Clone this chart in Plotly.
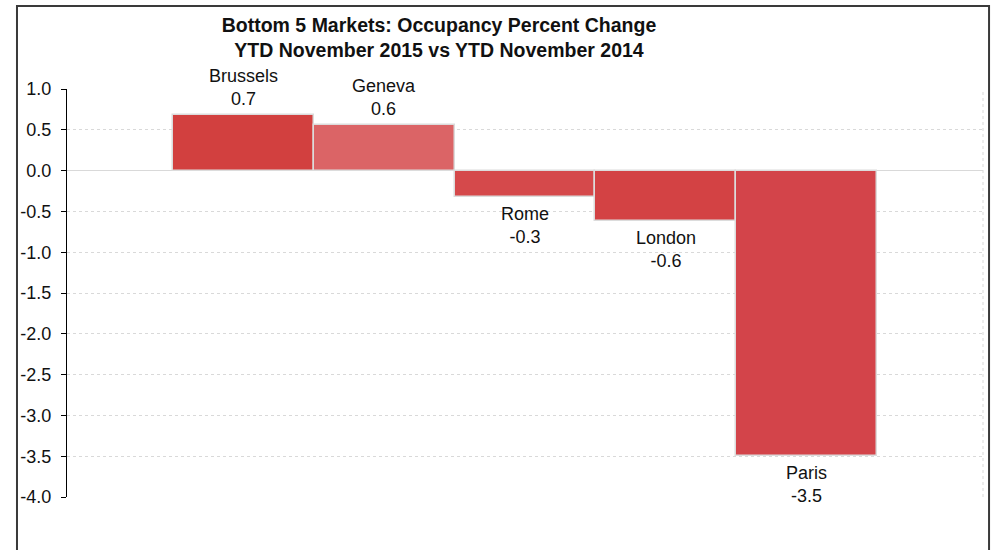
import plotly.graph_objects as go

markets = ["Brussels", "Geneva", "Rome", "London", "Paris"]
changes = [0.68, 0.56, -0.32, -0.62, -3.5]
tick_vals = [1.0, 0.5, 0.0, -0.5, -1.0, -1.5, -2.0, -2.5, -3.0, -3.5, -4.0]
tick_text = ["1.0", "0.5", "0.0", "-0.5", "-1.0", "-1.5", "-2.0", "-2.5", "-3.0", "-3.5", "-4.0"]

bar_colors = ["#d2403f", "#db6466", "#d5494b", "#d34244", "#d3444a"]

FONT = "Liberation Sans, Arial, sans-serif"
xpos = list(range(len(markets)))

fig = go.Figure()
fig.add_trace(go.Bar(
    x=xpos, y=changes, width=1.0,
    marker=dict(color=bar_colors, line=dict(color="#dcdcdc", width=1.5)),
    hoverinfo="skip", showlegend=False,
))

for i, (m, v) in enumerate(zip(markets, changes)):
    fig.add_annotation(
        x=i, y=v, xref="x", yref="y",
        text=f"{m}<br>{v:.1f}", showarrow=False,
        yanchor="bottom" if v >= 0 else "top",
        yshift=4 if v >= 0 else -5,
        font=dict(family=FONT, size=18, color="#111"),
        align="center",
    )

# outer chart frame
fig.add_shape(type="rect", xref="paper", yref="paper",
              x0=-0.0546, x1=1.0066, y0=-0.3, y1=1.2035,
              line=dict(color="#3a3a3a", width=2), layer="below")
# plot-area right border (dotted)
fig.add_shape(type="line", xref="paper", yref="paper",
              x0=1, x1=1, y0=0, y1=1,
              line=dict(color="#d9d9d9", width=1, dash="dot"))

fig.update_layout(
    width=992, height=550,
    margin=dict(l=67, r=9, t=89, b=53, autoexpand=False),
    paper_bgcolor="white", plot_bgcolor="white",
    font=dict(family=FONT, size=18, color="#111"),
    title=dict(
        text="<b>Bottom 5 Markets: Occupancy Percent Change<br>YTD November 2015 vs YTD November 2014</b>",
        x=439/992, xanchor="center", xref="container",
        y=1 - 32/550, yanchor="middle", yref="container",
        font=dict(family=FONT, size=19.5, color="#111"),
    ),
    bargap=0,
    xaxis=dict(range=[-1.25, 5.25], showticklabels=False, showgrid=False,
               zeroline=False, showline=False, ticks=""),
    yaxis=dict(range=[-4.0, 1.0], tickvals=tick_vals, ticktext=tick_text,
               showgrid=True, gridcolor="#d9d9d9", griddash="dot", gridwidth=1,
               zeroline=True, zerolinecolor="#d9d9d9", zerolinewidth=1,
               showline=True, linecolor="black", linewidth=1,
               ticks="outside", ticklen=5, tickcolor="black", automargin=False,
               ticklabelstandoff=6,
               tickfont=dict(family=FONT, size=18, color="#111")),
)

fig.write_html("out.html", config={"displayModeBar": False},
               post_script="document.body.style.margin='0';")
